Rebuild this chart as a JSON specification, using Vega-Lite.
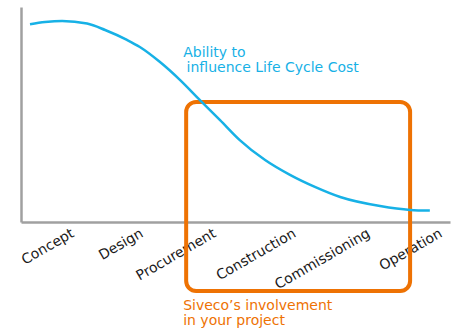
{
  "$schema": "https://vega.github.io/schema/vega-lite/v6.json",
  "width": 429,
  "height": 215,
  "autosize": {"type": "none"},
  "padding": {"left": 21, "top": 7, "right": 8, "bottom": 112},
  "background": "white",
  "config": {"view": {"stroke": null}, "font": "DejaVu Sans"},
  "datasets": {
    "curve": [
      {"x": 2.1, "y": 92.0},
      {"x": 5.6, "y": 93.0},
      {"x": 9.6, "y": 93.5},
      {"x": 15.4, "y": 92.3},
      {"x": 19.6, "y": 89.3},
      {"x": 24.7, "y": 84.7},
      {"x": 27.7, "y": 81.4},
      {"x": 32.4, "y": 74.4},
      {"x": 37.1, "y": 66.0},
      {"x": 41.7, "y": 56.7},
      {"x": 46.4, "y": 47.4},
      {"x": 51.0, "y": 38.1},
      {"x": 56.9, "y": 28.8},
      {"x": 62.7, "y": 21.9},
      {"x": 68.5, "y": 16.3},
      {"x": 74.4, "y": 11.6},
      {"x": 83.7, "y": 7.4},
      {"x": 90.7, "y": 5.6},
      {"x": 95.3, "y": 5.3}
    ],
    "box": [{"x1": 38.5, "x2": 90.7, "y1": 55.8, "y2": -32.1}],
    "notes": [
      {"x": 37.8, "y": 76.9, "label": "Ability to"},
      {"x": 38.6, "y": 69.9, "label": "influence Life Cycle Cost"}
    ],
    "notes2": [
      {"x": 37.8, "y": -40.9, "label": "Siveco’s involvement\nin your project"}
    ]
  },
  "layer": [
    {
      "data": {"name": "box"},
      "mark": {"type": "rect", "fill": null, "stroke": "#EE7203", "strokeWidth": 4, "cornerRadius": 10, "clip": false},
      "encoding": {
        "x": {"field": "x1", "type": "quantitative", "scale": {"domain": [0, 100]},
          "axis": {
            "title": null, "ticks": false, "grid": false,
            "domainColor": "#A0A0A0", "domainWidth": 2.5,
            "values": [11.2, 27.3, 44.3, 62.9, 80.2, 97.0],
            "labelExpr": "datum.value < 20 ? 'Concept' : datum.value < 35 ? 'Design' : datum.value < 50 ? 'Procurement' : datum.value < 70 ? 'Construction' : datum.value < 90 ? 'Commissioning' : 'Operation'",
            "labelAngle": -30, "labelFontSize": 14, "labelColor": "#1a1a1a", "labelPadding": 4, "labelFont": "DejaVu Sans", "labelOverlap": false, "labelFlush": false
          }},
        "x2": {"field": "x2"},
        "y": {"field": "y1", "type": "quantitative", "scale": {"domain": [0, 100]},
          "axis": {"title": null, "ticks": false, "labels": false, "grid": false, "domainColor": "#A0A0A0", "domainWidth": 2.5}},
        "y2": {"field": "y2"}
      }
    },
    {
      "data": {"name": "curve"},
      "mark": {"type": "line", "interpolate": "monotone", "stroke": "#17B1E6", "strokeWidth": 2.5},
      "encoding": {
        "x": {"field": "x", "type": "quantitative"},
        "y": {"field": "y", "type": "quantitative"}
      }
    },
    {
      "data": {"name": "notes"},
      "mark": {"type": "text", "align": "left", "baseline": "alphabetic", "fontSize": 14, "color": "#17B1E6"},
      "encoding": {
        "x": {"field": "x", "type": "quantitative"},
        "y": {"field": "y", "type": "quantitative"},
        "text": {"field": "label"}
      }
    },
    {
      "data": {"name": "notes2"},
      "mark": {"type": "text", "align": "left", "baseline": "alphabetic", "lineBreak": "\n", "lineHeight": 15, "fontSize": 14, "color": "#EE7203"},
      "encoding": {
        "x": {"field": "x", "type": "quantitative"},
        "y": {"field": "y", "type": "quantitative"},
        "text": {"field": "label"}
      }
    }
  ]
}
